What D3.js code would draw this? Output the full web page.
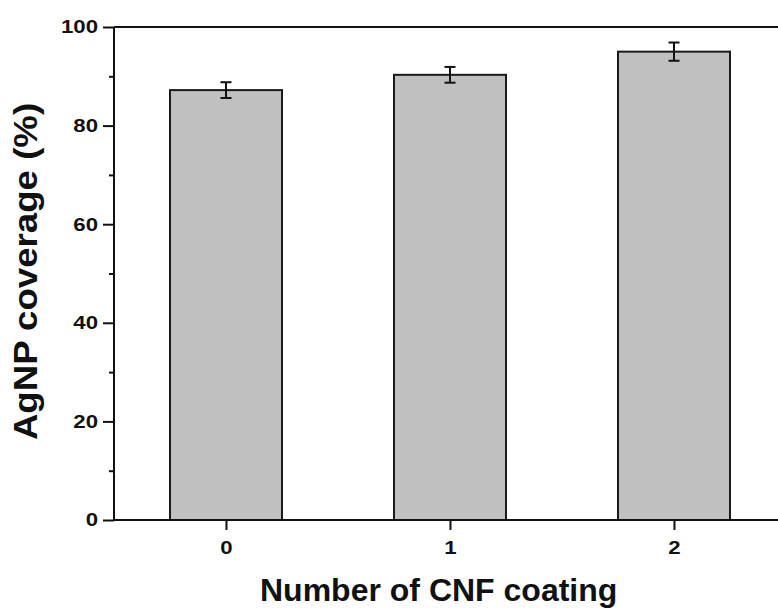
<!DOCTYPE html>
<html>
<head>
<meta charset="utf-8">
<script src="https://cdn.jsdelivr.net/npm/d3@7"></script>
<style>
  body { margin: 0; background: #fff; }
  svg text { font-family: "Liberation Sans", Arial, sans-serif; font-weight: bold; fill: #111; }
</style>
</head>
<body>
<svg id="chart" width="778" height="610"></svg>
<script>
// Data
const categories = [0, 1, 2];
const coverage = [87.2, 90.3, 95.0];
const errors = [1.6, 1.6, 1.85];
const yTicks = [0, 20, 40, 60, 80, 100];
const yMinorTicks = [10, 30, 50, 70, 90];

const svg = d3.select("#chart");

// plot box (right edge runs past the window, like the original)
const plotLeft = 114, plotRight = 786, plotTop = 27, plotBottom = 520;

const x = d3.scaleLinear().domain([-0.5, 2.5]).range([plotLeft, plotRight]);
const y = d3.scaleLinear().domain([0, 100]).range([plotBottom, plotTop]);

const barWidth = (x(1) - x(0)) * 0.5;

// bars
svg.selectAll("rect.bar")
  .data(categories)
  .join("rect")
  .attr("class", "bar")
  .attr("x", (d) => x(d) - barWidth / 2)
  .attr("y", (d, i) => y(coverage[i]))
  .attr("width", barWidth)
  .attr("height", (d, i) => y(0) - y(coverage[i]))
  .attr("fill", "#c0c0c0")
  .attr("stroke", "#1a1a1a")
  .attr("stroke-width", 2);

// error bars
const err = svg.append("g").attr("stroke", "#111").attr("stroke-width", 2);
categories.forEach((c, i) => {
  const cx = x(c);
  const hi = y(coverage[i] + errors[i]);
  const lo = y(coverage[i] - errors[i]);
  err.append("line").attr("x1", cx).attr("x2", cx).attr("y1", hi).attr("y2", lo);
  err.append("line").attr("x1", cx - 5.5).attr("x2", cx + 5.5).attr("y1", hi).attr("y2", hi);
  err.append("line").attr("x1", cx - 5.5).attr("x2", cx + 5.5).attr("y1", lo).attr("y2", lo);
});

// y axis
const yAxis = svg.append("g")
  .attr("transform", `translate(${plotLeft},0)`)
  .call(d3.axisLeft(y).tickValues(yTicks).tickSize(11).tickFormat(d3.format("d")));
svg.append("g")
  .attr("transform", `translate(${plotLeft},0)`)
  .call(d3.axisLeft(y).tickValues(yMinorTicks).tickSize(5).tickFormat(""))
  .call((g) => g.select(".domain").remove());

// x axis
const xAxis = svg.append("g")
  .attr("transform", `translate(0,${plotBottom})`)
  .call(d3.axisBottom(x).tickValues(categories).tickSize(10).tickFormat(d3.format("d")));

// top border
svg.append("line")
  .attr("x1", plotLeft).attr("x2", plotRight)
  .attr("y1", plotTop).attr("y2", plotTop)
  .attr("stroke", "#111").attr("stroke-width", 2);

svg.selectAll(".domain, .tick line").attr("stroke", "#111").attr("stroke-width", 2);
// plain lines for the axes (no outer ticks)
yAxis.select(".domain").attr("d", `M0,${plotTop}V${plotBottom}`);
xAxis.select(".domain").attr("d", `M${plotLeft},0H${plotRight}`);

// tick labels: the original digits are wide, so stretch them a bit
const stretch = 1.2;
svg.selectAll(".tick text")
  .attr("font-size", 18.5)
  .attr("font-family", "Liberation Sans, Arial, sans-serif")
  .attr("font-weight", "bold")
  .attr("fill", "#111")
  .attr("transform", `scale(${stretch},1)`);
yAxis.selectAll(".tick text").attr("x", -16 / stretch);
xAxis.selectAll(".tick text").attr("x", 0).attr("y", 34).attr("dy", 0);

// axis titles
svg.append("text")
  .attr("x", 260)
  .attr("y", 601)
  .attr("text-anchor", "start")
  .attr("font-size", 32)
  .text("Number of CNF coating");

svg.append("text")
  .attr("transform", "translate(37,271.5) rotate(-90) scale(1.11,1)")
  .attr("text-anchor", "middle")
  .attr("font-size", 33)
  .text("AgNP coverage (%)");
</script>
</body>
</html>
